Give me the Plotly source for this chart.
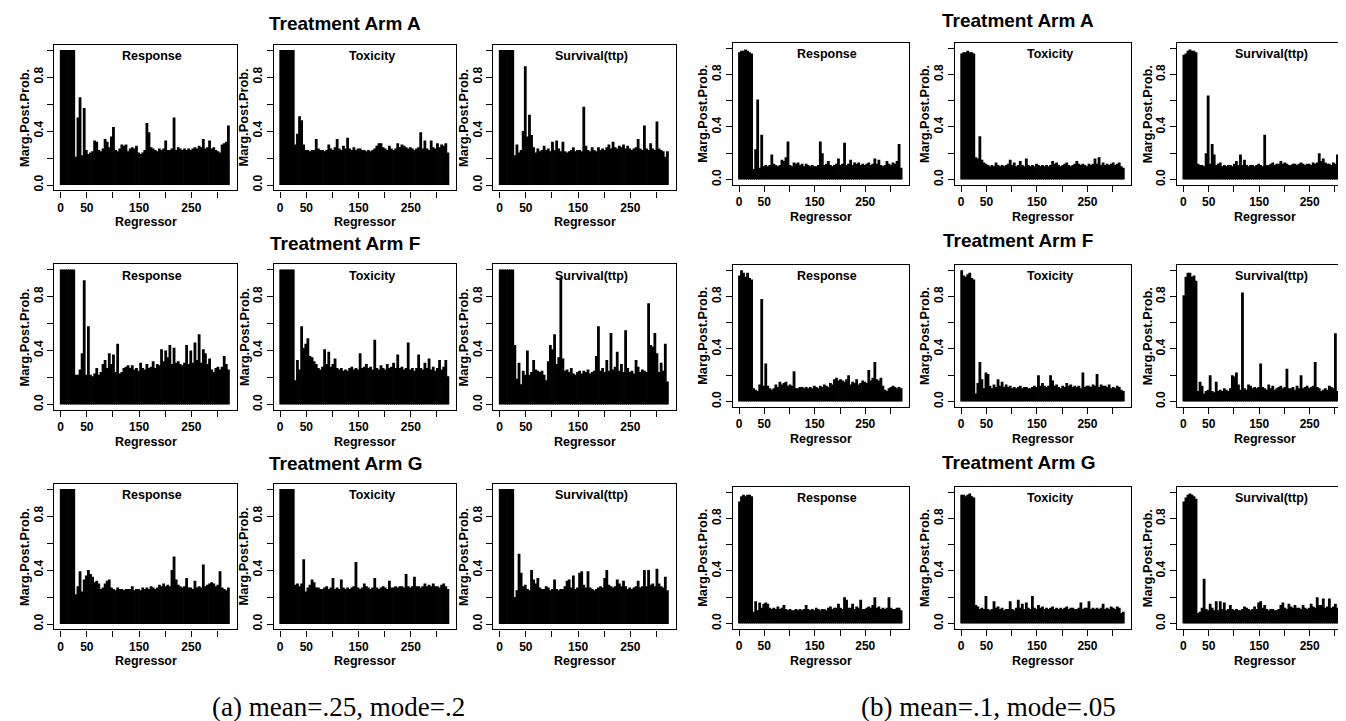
import plotly.graph_objects as go

# ---------------- data (marginal posterior probabilities) -------------
N_REG = 324                                  # number of regressors
regressor = list(range(1, 322, 4))           # regressor index of each needle (81 needles)
arms = ["Treatment Arm A", "Treatment Arm F", "Treatment Arm G"]
outcomes = ["Response", "Toxicity", "Survival(ttp)"]
captions = ["(a) mean=.25, mode=.2", "(b) mean=.1, mode=.05"]
x_tickvals = [0, 50, 100, 150, 200, 250, 300]
x_ticktext = ["0", "50", "", "150", "", "250", ""]
y_tickvals = [0, 0.2, 0.4, 0.6, 0.8, 1.0]
y_ticktext = ["0.0", "", "0.4", "", "0.8", ""]

# (a) mean=.25, mode=.2
a_A_resp = [1.0, 1.0, 1.0, 1.0, 1.0, 1.0, 1.0, 0.21, 0.50, 0.65,
            0.22, 0.57, 0.26, 0.23, 0.24, 0.25, 0.33, 0.32, 0.26, 0.25,
            0.27, 0.34, 0.32, 0.28, 0.36, 0.43, 0.26, 0.25, 0.27, 0.30,
            0.29, 0.30, 0.25, 0.27, 0.28, 0.27, 0.29, 0.24, 0.23, 0.24,
            0.26, 0.46, 0.39, 0.28, 0.27, 0.26, 0.25, 0.27, 0.26, 0.27,
            0.33, 0.26, 0.26, 0.27, 0.50, 0.26, 0.28, 0.27, 0.26, 0.27,
            0.26, 0.27, 0.26, 0.27, 0.28, 0.27, 0.29, 0.28, 0.34, 0.27,
            0.28, 0.33, 0.27, 0.28, 0.26, 0.25, 0.24, 0.30, 0.31, 0.32,
            0.44]
a_A_tox = [1.0, 1.0, 1.0, 1.0, 1.0, 1.0, 1.0, 0.30, 0.38, 0.51,
           0.48, 0.30, 0.26, 0.26, 0.25, 0.26, 0.26, 0.34, 0.27, 0.26,
           0.26, 0.25, 0.26, 0.30, 0.27, 0.26, 0.28, 0.34, 0.27, 0.26,
           0.29, 0.27, 0.35, 0.27, 0.26, 0.28, 0.26, 0.27, 0.27, 0.26,
           0.26, 0.25, 0.26, 0.25, 0.26, 0.27, 0.29, 0.31, 0.31, 0.28,
           0.27, 0.26, 0.29, 0.27, 0.26, 0.27, 0.31, 0.28, 0.30, 0.29,
           0.28, 0.27, 0.28, 0.27, 0.26, 0.27, 0.28, 0.39, 0.27, 0.33,
           0.27, 0.26, 0.33, 0.28, 0.27, 0.31, 0.28, 0.30, 0.29, 0.31,
           0.24]
a_A_surv = [1.0, 1.0, 1.0, 1.0, 1.0, 1.0, 1.0, 0.22, 0.30, 0.24,
            0.26, 0.40, 0.88, 0.36, 0.52, 0.37, 0.28, 0.24, 0.27, 0.25,
            0.26, 0.29, 0.26, 0.27, 0.25, 0.32, 0.26, 0.33, 0.27, 0.25,
            0.32, 0.25, 0.24, 0.25, 0.26, 0.28, 0.25, 0.26, 0.26, 0.25,
            0.58, 0.29, 0.26, 0.25, 0.28, 0.26, 0.25, 0.28, 0.26, 0.27,
            0.26, 0.28, 0.30, 0.27, 0.32, 0.28, 0.27, 0.29, 0.28, 0.30,
            0.27, 0.29, 0.27, 0.26, 0.27, 0.28, 0.34, 0.27, 0.26, 0.44,
            0.27, 0.26, 0.31, 0.27, 0.26, 0.47, 0.27, 0.26, 0.25, 0.21,
            0.25]
a_F_resp = [1.0, 1.0, 1.0, 1.0, 1.0, 1.0, 1.0, 0.22, 0.22, 0.26,
            0.38, 0.92, 0.22, 0.58, 0.22, 0.21, 0.23, 0.27, 0.22, 0.24,
            0.30, 0.33, 0.27, 0.38, 0.30, 0.37, 0.24, 0.45, 0.23, 0.24,
            0.27, 0.28, 0.29, 0.27, 0.29, 0.26, 0.27, 0.25, 0.31, 0.27,
            0.26, 0.30, 0.27, 0.28, 0.32, 0.27, 0.30, 0.29, 0.41, 0.32,
            0.40, 0.35, 0.44, 0.30, 0.42, 0.31, 0.32, 0.30, 0.29, 0.31,
            0.44, 0.30, 0.40, 0.31, 0.46, 0.33, 0.52, 0.31, 0.41, 0.38,
            0.30, 0.34, 0.26, 0.24, 0.27, 0.28, 0.26, 0.28, 0.36, 0.30,
            0.26]
a_F_tox = [1.0, 1.0, 1.0, 1.0, 1.0, 1.0, 1.0, 0.18, 0.33, 0.26,
           0.58, 0.42, 0.45, 0.49, 0.36, 0.35, 0.32, 0.30, 0.27, 0.26,
           0.28, 0.41, 0.30, 0.39, 0.28, 0.30, 0.34, 0.27, 0.26, 0.27,
           0.25, 0.26, 0.25, 0.27, 0.28, 0.26, 0.27, 0.26, 0.38, 0.27,
           0.28, 0.30, 0.27, 0.28, 0.26, 0.48, 0.27, 0.26, 0.29, 0.27,
           0.26, 0.30, 0.27, 0.28, 0.31, 0.27, 0.37, 0.27, 0.28, 0.26,
           0.27, 0.46, 0.26, 0.27, 0.25, 0.27, 0.37, 0.27, 0.26, 0.31,
           0.27, 0.34, 0.26, 0.28, 0.25, 0.27, 0.33, 0.26, 0.28, 0.33,
           0.21]
a_F_surv = [1.0, 1.0, 1.0, 1.0, 1.0, 1.0, 1.0, 0.44, 0.19, 0.31,
            0.15, 0.25, 0.22, 0.40, 0.22, 0.24, 0.33, 0.26, 0.25, 0.24,
            0.25, 0.22, 0.18, 0.32, 0.44, 0.41, 0.52, 0.30, 0.35, 0.94,
            0.34, 0.25, 0.26, 0.24, 0.27, 0.23, 0.22, 0.24, 0.25, 0.23,
            0.25, 0.24, 0.26, 0.23, 0.24, 0.25, 0.36, 0.58, 0.25, 0.27,
            0.24, 0.33, 0.25, 0.53, 0.26, 0.28, 0.39, 0.25, 0.30, 0.24,
            0.55, 0.27, 0.24, 0.25, 0.23, 0.33, 0.28, 0.24, 0.26, 0.25,
            0.24, 0.75, 0.44, 0.43, 0.53, 0.38, 0.24, 0.31, 0.25, 0.45,
            0.17]
a_G_resp = [1.0, 1.0, 1.0, 1.0, 1.0, 1.0, 1.0, 0.22, 0.28, 0.39,
            0.24, 0.33, 0.36, 0.40, 0.37, 0.35, 0.31, 0.32, 0.30, 0.26,
            0.27, 0.30, 0.32, 0.33, 0.27, 0.26, 0.25, 0.27, 0.26, 0.26,
            0.25, 0.26, 0.26, 0.26, 0.28, 0.25, 0.26, 0.26, 0.25, 0.27,
            0.26, 0.27, 0.26, 0.28, 0.27, 0.26, 0.27, 0.29, 0.28, 0.30,
            0.28, 0.29, 0.28, 0.40, 0.50, 0.33, 0.29, 0.28, 0.27, 0.28,
            0.34, 0.27, 0.27, 0.26, 0.32, 0.27, 0.28, 0.27, 0.44, 0.28,
            0.29, 0.30, 0.31, 0.30, 0.28, 0.29, 0.39, 0.27, 0.26, 0.25,
            0.27]
a_G_tox = [1.0, 1.0, 1.0, 1.0, 1.0, 1.0, 1.0, 0.29, 0.30, 0.28,
           0.30, 0.48, 0.24, 0.27, 0.29, 0.33, 0.31, 0.27, 0.27, 0.26,
           0.26, 0.27, 0.28, 0.26, 0.27, 0.34, 0.26, 0.27, 0.26, 0.33,
           0.27, 0.26, 0.27, 0.26, 0.27, 0.28, 0.46, 0.27, 0.26, 0.27,
           0.30, 0.28, 0.27, 0.26, 0.27, 0.34, 0.27, 0.26, 0.27, 0.28,
           0.27, 0.26, 0.32, 0.27, 0.27, 0.28, 0.27, 0.28, 0.28, 0.27,
           0.37, 0.28, 0.27, 0.28, 0.35, 0.28, 0.28, 0.27, 0.28, 0.30,
           0.28, 0.29, 0.28, 0.30, 0.28, 0.28, 0.27, 0.29, 0.30, 0.28,
           0.26]
a_G_surv = [1.0, 1.0, 1.0, 1.0, 1.0, 1.0, 1.0, 0.20, 0.25, 0.52,
            0.38, 0.28, 0.29, 0.26, 0.25, 0.40, 0.33, 0.30, 0.34, 0.27,
            0.26, 0.26, 0.28, 0.27, 0.25, 0.26, 0.33, 0.26, 0.25, 0.26,
            0.26, 0.28, 0.32, 0.33, 0.27, 0.36, 0.26, 0.27, 0.38, 0.39,
            0.29, 0.27, 0.39, 0.27, 0.26, 0.25, 0.26, 0.27, 0.28, 0.27,
            0.34, 0.40, 0.29, 0.28, 0.27, 0.28, 0.33, 0.30, 0.28, 0.32,
            0.28, 0.26, 0.27, 0.26, 0.27, 0.28, 0.32, 0.27, 0.28, 0.40,
            0.28, 0.40, 0.29, 0.30, 0.28, 0.41, 0.30, 0.28, 0.27, 0.35,
            0.25]

# (b) mean=.1, mode=.05
b_A_resp = [0.97, 0.98, 0.98, 0.99, 0.98, 0.97, 0.96, 0.08, 0.23, 0.61,
            0.09, 0.34, 0.10, 0.11, 0.10, 0.11, 0.19, 0.12, 0.11, 0.10,
            0.11, 0.15, 0.14, 0.17, 0.29, 0.11, 0.10, 0.13, 0.12, 0.13,
            0.11, 0.12, 0.10, 0.12, 0.11, 0.10, 0.11, 0.10, 0.10, 0.11,
            0.29, 0.20, 0.11, 0.12, 0.14, 0.11, 0.10, 0.11, 0.12, 0.16,
            0.11, 0.12, 0.28, 0.11, 0.12, 0.15, 0.11, 0.13, 0.12, 0.13,
            0.11, 0.12, 0.11, 0.12, 0.13, 0.11, 0.12, 0.16, 0.12, 0.15,
            0.11, 0.10, 0.11, 0.14, 0.12, 0.11, 0.13, 0.12, 0.14, 0.27,
            0.09]
b_A_tox = [0.96, 0.97, 0.97, 0.98, 0.97, 0.97, 0.96, 0.17, 0.16, 0.33,
           0.15, 0.13, 0.12, 0.11, 0.10, 0.11, 0.10, 0.13, 0.11, 0.10,
           0.11, 0.10, 0.11, 0.12, 0.15, 0.11, 0.13, 0.10, 0.11, 0.14,
           0.11, 0.10, 0.16, 0.11, 0.10, 0.11, 0.10, 0.12, 0.11, 0.10,
           0.11, 0.10, 0.11, 0.10, 0.11, 0.14, 0.12, 0.13, 0.11, 0.10,
           0.11, 0.12, 0.13, 0.11, 0.10, 0.11, 0.12, 0.14, 0.12, 0.11,
           0.12, 0.11, 0.10, 0.12, 0.11, 0.12, 0.16, 0.12, 0.17, 0.11,
           0.13, 0.11, 0.12, 0.11, 0.12, 0.13, 0.11, 0.12, 0.13, 0.10,
           0.09]
b_A_surv = [0.95, 0.96, 0.98, 0.99, 0.98, 0.98, 0.97, 0.12, 0.11, 0.11,
            0.10, 0.20, 0.64, 0.12, 0.27, 0.19, 0.11, 0.12, 0.13, 0.10,
            0.11, 0.10, 0.11, 0.11, 0.10, 0.12, 0.14, 0.11, 0.19, 0.11,
            0.15, 0.11, 0.10, 0.11, 0.11, 0.10, 0.11, 0.12, 0.11, 0.10,
            0.34, 0.11, 0.11, 0.12, 0.13, 0.11, 0.12, 0.12, 0.14, 0.12,
            0.13, 0.12, 0.11, 0.11, 0.12, 0.12, 0.11, 0.12, 0.13, 0.12,
            0.11, 0.12, 0.12, 0.11, 0.13, 0.12, 0.13, 0.20, 0.14, 0.16,
            0.13, 0.12, 0.12, 0.11, 0.13, 0.12, 0.19, 0.15, 0.10, 0.11,
            0.12]
b_F_resp = [0.96, 1.00, 0.98, 0.95, 0.98, 0.94, 0.93, 0.10, 0.09, 0.08,
            0.13, 0.78, 0.12, 0.29, 0.12, 0.10, 0.09, 0.10, 0.13, 0.11,
            0.15, 0.13, 0.14, 0.15, 0.12, 0.13, 0.12, 0.23, 0.10, 0.10,
            0.11, 0.11, 0.10, 0.11, 0.10, 0.11, 0.10, 0.12, 0.11, 0.10,
            0.12, 0.11, 0.13, 0.12, 0.11, 0.14, 0.13, 0.17, 0.18, 0.16,
            0.17, 0.16, 0.15, 0.17, 0.20, 0.13, 0.15, 0.14, 0.17, 0.13,
            0.14, 0.16, 0.15, 0.14, 0.24, 0.16, 0.18, 0.30, 0.17, 0.16,
            0.18, 0.12, 0.09, 0.08, 0.10, 0.11, 0.12, 0.11, 0.10, 0.11,
            0.10]
b_F_tox = [1.00, 0.96, 0.95, 0.97, 0.98, 0.94, 0.93, 0.06, 0.14, 0.30,
           0.17, 0.10, 0.22, 0.21, 0.12, 0.10, 0.13, 0.11, 0.17, 0.12,
           0.15, 0.11, 0.13, 0.11, 0.12, 0.10, 0.11, 0.10, 0.11, 0.12,
           0.10, 0.11, 0.11, 0.10, 0.10, 0.11, 0.12, 0.11, 0.20, 0.12,
           0.14, 0.12, 0.11, 0.12, 0.20, 0.16, 0.12, 0.13, 0.11, 0.10,
           0.12, 0.11, 0.14, 0.12, 0.13, 0.11, 0.12, 0.11, 0.12, 0.10,
           0.22, 0.11, 0.12, 0.12, 0.11, 0.13, 0.12, 0.21, 0.11, 0.13,
           0.12, 0.12, 0.11, 0.13, 0.10, 0.11, 0.10, 0.12, 0.11, 0.09,
           0.08]
b_F_surv = [0.81, 0.95, 0.98, 0.98, 0.95, 0.96, 0.92, 0.08, 0.15, 0.12,
            0.06, 0.08, 0.09, 0.20, 0.08, 0.07, 0.15, 0.08, 0.09, 0.08,
            0.10, 0.09, 0.08, 0.10, 0.20, 0.19, 0.22, 0.13, 0.09, 0.83,
            0.10, 0.09, 0.13, 0.12, 0.10, 0.11, 0.10, 0.11, 0.29, 0.11,
            0.10, 0.09, 0.13, 0.10, 0.12, 0.09, 0.10, 0.11, 0.12, 0.10,
            0.11, 0.25, 0.10, 0.10, 0.11, 0.09, 0.12, 0.10, 0.20, 0.10,
            0.11, 0.12, 0.10, 0.11, 0.12, 0.30, 0.11, 0.10, 0.08, 0.09,
            0.10, 0.09, 0.12, 0.11, 0.10, 0.52, 0.08, 0.23, 0.33, 0.10,
            0.07]
b_G_resp = [0.93, 0.97, 0.98, 0.97, 0.98, 0.98, 0.97, 0.09, 0.17, 0.10,
            0.16, 0.12, 0.15, 0.16, 0.15, 0.12, 0.11, 0.12, 0.11, 0.13,
            0.11, 0.12, 0.14, 0.11, 0.10, 0.11, 0.10, 0.10, 0.11, 0.10,
            0.11, 0.10, 0.11, 0.14, 0.11, 0.10, 0.11, 0.10, 0.12, 0.11,
            0.10, 0.11, 0.11, 0.10, 0.12, 0.13, 0.11, 0.12, 0.12, 0.15,
            0.12, 0.11, 0.20, 0.18, 0.12, 0.12, 0.15, 0.11, 0.13, 0.12,
            0.18, 0.11, 0.11, 0.12, 0.13, 0.12, 0.14, 0.20, 0.12, 0.13,
            0.11, 0.12, 0.11, 0.12, 0.20, 0.12, 0.11, 0.11, 0.12, 0.12,
            0.10]
b_G_tox = [0.98, 0.98, 0.97, 0.98, 0.99, 0.97, 0.96, 0.14, 0.13, 0.11,
           0.12, 0.11, 0.21, 0.11, 0.10, 0.11, 0.17, 0.12, 0.13, 0.11,
           0.12, 0.10, 0.11, 0.11, 0.17, 0.11, 0.10, 0.12, 0.18, 0.12,
           0.15, 0.11, 0.16, 0.12, 0.11, 0.21, 0.12, 0.11, 0.14, 0.12,
           0.13, 0.11, 0.12, 0.11, 0.12, 0.13, 0.11, 0.12, 0.11, 0.12,
           0.11, 0.12, 0.13, 0.11, 0.12, 0.12, 0.11, 0.11, 0.12, 0.16,
           0.11, 0.12, 0.12, 0.17, 0.11, 0.12, 0.11, 0.12, 0.11, 0.12,
           0.15, 0.11, 0.12, 0.11, 0.13, 0.12, 0.11, 0.13, 0.12, 0.08,
           0.09]
b_G_surv = [0.93, 0.96, 0.98, 0.99, 0.98, 0.97, 0.95, 0.08, 0.09, 0.12,
            0.34, 0.11, 0.10, 0.15, 0.12, 0.10, 0.17, 0.10, 0.17, 0.11,
            0.16, 0.10, 0.11, 0.14, 0.11, 0.10, 0.11, 0.10, 0.10, 0.11,
            0.13, 0.12, 0.11, 0.10, 0.11, 0.13, 0.11, 0.16, 0.17, 0.12,
            0.14, 0.11, 0.10, 0.11, 0.11, 0.10, 0.10, 0.11, 0.14, 0.16,
            0.12, 0.11, 0.15, 0.13, 0.12, 0.14, 0.12, 0.12, 0.11, 0.14,
            0.12, 0.11, 0.12, 0.15, 0.13, 0.12, 0.20, 0.14, 0.14, 0.19,
            0.12, 0.13, 0.19, 0.12, 0.13, 0.15, 0.12, 0.14, 0.12, 0.08,
            0.10]

half_a = [[a_A_resp, a_A_tox, a_A_surv], [a_F_resp, a_F_tox, a_F_surv], [a_G_resp, a_G_tox, a_G_surv]]
half_b = [[b_A_resp, b_A_tox, b_A_surv], [b_F_resp, b_F_tox, b_F_surv], [b_G_resp, b_G_tox, b_G_surv]]

# ---------------- geometry (pixels) ----------------
W, H = 1346, 721
FONT = "Liberation Sans, Arial, Helvetica, sans-serif"
halves = [
    dict(data=half_a, x0=[52.7, 272.2, 491.7], ppx=0.5224, y1=[42.0, 261.5, 481.0], ppy=135.0,
         title_x=337, title_y=[16, 235.5, 455], cap_x=330),
    dict(data=half_b, x0=[731.0, 953.2, 1175.4], ppx=0.505, y1=[40.2, 262.2, 484.2], ppy=131.3,
         title_x=1010, title_y=[13, 232, 454], cap_x=980),
]
pad = 0.04 * (N_REG - 1)
xlim = [1 - pad, N_REG + pad]
ylim = [-0.04, 1.04]

fig = go.Figure()
annotations = []
layout_axes = {}
k = 0
for hf in halves:
    for r in range(3):
        for c in range(3):
            k += 1
            vals = hf["data"][r][c]
            assert len(vals) == len(regressor)
            xs, ys = [], []
            for xv, yv in zip(regressor, vals):
                xs += [xv, xv, None]
                ys += [0, yv, None]
            sfx = "" if k == 1 else str(k)
            fig.add_trace(go.Scatter(x=xs, y=ys, mode="lines",
                                     line=dict(color="black", width=2.8),
                                     xaxis="x" + sfx, yaxis="y" + sfx,
                                     showlegend=False, hoverinfo="skip"))
            x0 = hf["x0"][c]
            left_px = x0 + xlim[0] * hf["ppx"]
            right_px = x0 + xlim[1] * hf["ppx"]
            y1 = hf["y1"][r]
            top_px = y1 - (ylim[1] - 1) * hf["ppy"]
            bot_px = y1 + (1 - ylim[0]) * hf["ppy"]
            common = dict(showline=True, linecolor="black", linewidth=1.2, mirror=True,
                          ticks="outside", ticklen=6, tickwidth=1.2, tickcolor="black",
                          showgrid=False, zeroline=False, fixedrange=True,
                          tickfont=dict(family=FONT, size=12, color="black", weight="bold"))
            layout_axes["xaxis" + sfx] = dict(common, domain=[left_px / W, right_px / W],
                                              range=xlim, anchor="y" + sfx,
                                              tickmode="array", tickvals=x_tickvals,
                                              ticktext=x_ticktext)
            layout_axes["yaxis" + sfx] = dict(common, domain=[1 - bot_px / H, 1 - top_px / H],
                                              range=ylim, anchor="x" + sfx,
                                              tickmode="array", tickvals=y_tickvals,
                                              ticktext=y_ticktext, tickangle=-90)
            # panel label inside the box
            annotations.append(dict(x=175, y=0.955, xref="x" + sfx, yref="y" + sfx,
                                    text=outcomes[c], showarrow=False,
                                    font=dict(family=FONT, size=12.5, color="black", weight="bold"),
                                    xanchor="center", yanchor="middle"))
            # axis titles
            annotations.append(dict(x=(left_px - 30) / W, y=1 - (y1 + 0.5 * hf["ppy"]) / H,
                                    xref="paper", yref="paper", text="Marg.Post.Prob.",
                                    textangle=-90, showarrow=False,
                                    font=dict(family=FONT, size=12.8, color="black", weight="bold"),
                                    xanchor="center", yanchor="middle"))
            annotations.append(dict(x=(left_px + right_px) / 2 / W, y=1 - (bot_px + 32) / H,
                                    xref="paper", yref="paper", text="Regressor",
                                    showarrow=False,
                                    font=dict(family=FONT, size=12.5, color="black", weight="bold"),
                                    xanchor="center", yanchor="middle"))
        annotations.append(dict(x=hf["title_x"] / W, y=1 - hf["title_y"][r] / H,
                                xref="paper", yref="paper", text=arms[r], showarrow=False,
                                font=dict(family=FONT, size=19, color="black", weight="bold"),
                                xanchor="center", yanchor="middle"))

for i, hf in enumerate(halves):
    annotations.append(dict(x=hf["cap_x"] / W, y=1 - 699 / H, xref="paper", yref="paper",
                            text=captions[i], showarrow=False,
                            font=dict(family="Liberation Serif, Times New Roman, serif",
                                      size=27, color="black"),
                            xanchor="center", yanchor="middle"))

fig.update_layout(width=W, height=H, margin=dict(l=0, r=0, t=0, b=0),
                  paper_bgcolor="white", plot_bgcolor="white",
                  annotations=annotations, **layout_axes)
fig.write_html("out.html")
